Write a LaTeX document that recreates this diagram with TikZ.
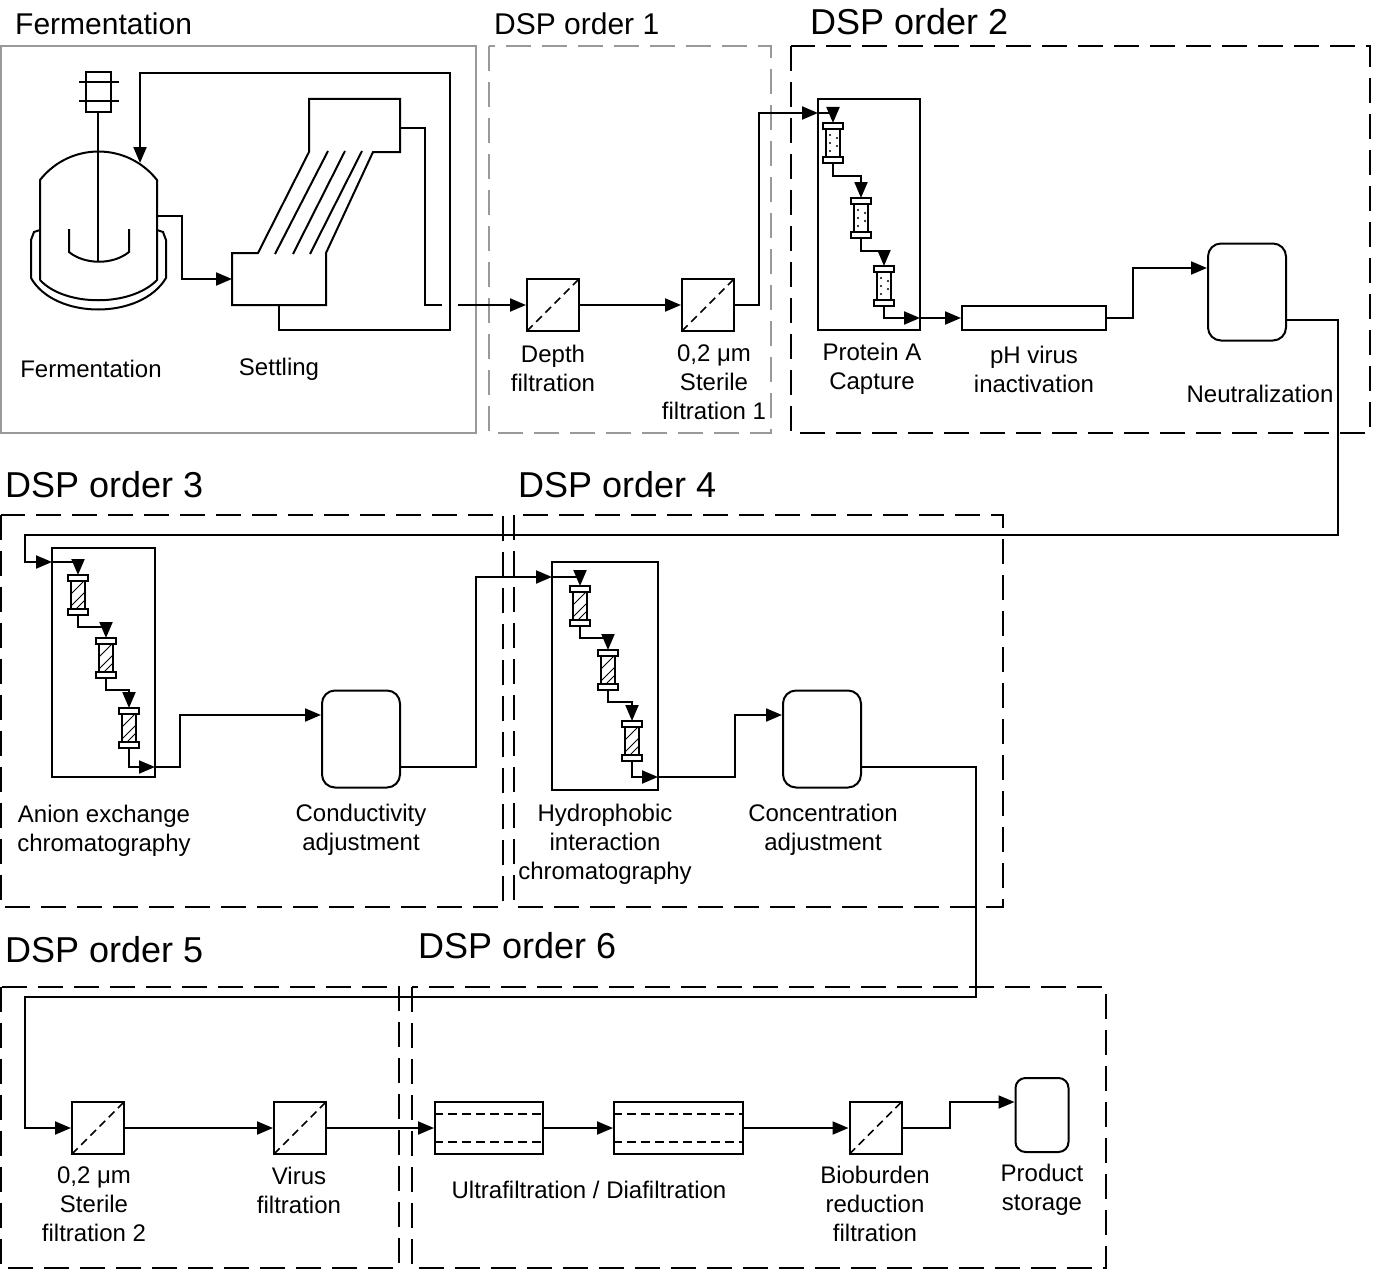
\documentclass[tikz,border=0pt]{standalone}
\usepackage{fontspec}
\setmainfont{Liberation Sans}
\usetikzlibrary{arrows.meta, positioning}
\tikzset{
  flow/.style={line width=2pt, -{Triangle[length=16pt,width=13pt]}},
  pipe/.style={line width=2pt},
  stage/.style={line width=2pt, dash pattern=on 25pt off 11pt},
  ttl/.style={anchor=west, inner sep=0pt, font=\fontsize{36}{38}\selectfont},
  ttlsmall/.style={anchor=west, inner sep=0pt, font=\fontsize{30}{32}\selectfont},
  lbl/.style={align=center, inner sep=0pt, font=\fontsize{24}{29}\selectfont},
  filter/.style={draw, line width=2pt, minimum size=52pt, inner sep=0pt,
    path picture={\draw[line width=1.5pt, dash pattern=on 8pt off 5pt]
      (path picture bounding box.south west) -- (path picture bounding box.north east);}},
  tank/.style={draw, line width=2pt, minimum width=78pt, minimum height=97pt, rounded corners=13pt},
  unit/.style={draw, line width=2pt, inner sep=0pt},
  pics/colm/.style={code={
    \draw[line width=1.5pt, fill=white] (-10,-20) rectangle (10,-14);
    \draw[line width=1.5pt] (-7,-14) rectangle (7,14);
    \draw[line width=1.5pt, fill=white] (-10,14) rectangle (10,20);
    \ifx#1d
      \foreach \p in {(-3,-8),(4,-5),(-3,0),(4,3),(-3,8)} \fill \p circle (1.2pt);
    \else
      \draw[line width=1pt] (-7,-1) -- (6,-14) (-7,11) -- (7,-3) (-2,14) -- (7,5);
    \fi
    \coordinate (-in) at (0,-20);
    \coordinate (-out) at (0,20);
  }}
}
\begin{document}
\begin{tikzpicture}[x=1pt, y=-1pt]
\useasboundingbox (0,0) rectangle (1375,1271);

% stage frames
\draw[line width=2pt, gray!80] (1,46) rectangle (476,433);
\draw[stage, gray!80] (489,46) rectangle (771,433);
\draw[stage] (791,46) rectangle (1370,433);
\draw[stage] (1,515) rectangle (503,907);
\draw[stage] (514,515) rectangle (1003,907);
\draw[stage] (1,987) rectangle (399,1268);
\draw[stage] (412,987) rectangle (1106,1268);

\node[ttlsmall] (tFerm) at (15,24) {Fermentation};
\node[ttlsmall] (tDsp1) at (494,24) {DSP order 1};
\node[ttl] (tDsp2) at (810,22) {DSP order 2};
\node[ttl] (tDsp3) at (5,485) {DSP order 3};
\node[ttl] (tDsp4) at (518,485) {DSP order 4};
\node[ttl] (tDsp5) at (5,950) {DSP order 5};
\node[ttl] (tDsp6) at (418,946) {DSP order 6};

% fermenter
\draw[pipe] (40,280) -- (40,180) .. controls (70,142) and (127,142) .. (157,180) -- (157,280)
  .. controls (131,307) and (65,307) .. (40,280);
\draw[pipe] (40,230) -- (34,232) -- (31,240) -- (31,278) .. controls (55,320) and (141,320) .. (166,278)
  -- (166,240) -- (163,232) -- (157,230);
\draw[pipe] (98,112) -- (98,262);
\draw[pipe] (86,72) rectangle (111,112);
\draw[pipe] (79,82) -- (119,82) (79,101) -- (119,101);
\draw[pipe] (69,229) -- (69,252) .. controls (85,265) and (113,265) .. (129,252) -- (129,229);
\coordinate (fermIn) at (140,163);
\coordinate (fermOut) at (157,216);

% settler
\draw[pipe] (258,253) -- (232,253) -- (232,305) -- (326,305) -- (326,253) -- (373,152) -- (400,152)
  -- (400,99) -- (309,99) -- (309,152) -- cycle;
\draw[pipe] (275,254) -- (328,151) (293,254) -- (345,151) (310,254) -- (362,151);
\coordinate (setIn) at (232,279);
\coordinate (setTop) at (400,128);
\coordinate (setBot) at (279,305);

\draw[flow] (fermOut) -- (182,216) |- (setIn);
\draw[flow] (setBot) -- (279,330) -- (450,330) -- (450,73) -| (fermIn);
\draw[pipe] (setTop) -- (425,128) |- (442,305);

\node[lbl] (lFerm) at (91,369) {Fermentation};
\node[lbl] (lSet) at (279,369) {Settling};

% DSP order 1
\node[filter] (depth) at (553,305) {};
\node[filter] (ster1) at (708,305) {};
\draw[flow] (458,305) -- (depth.west);
\draw[flow] (depth.east) -- (ster1.west);
\node[lbl] (lDepth) at (553,368) {Depth\\filtration};
\node[lbl] (lSter1) at (714,382) {0,2 μm\\Sterile\\filtration 1};

% DSP order 2
\node[unit, minimum width=102pt, minimum height=231pt] (protA) at (869,214.5) {};
\coordinate (paIn) at (818,113);
\coordinate (paOut) at (920,318);
\pic (pa1) at (833,143) {colm=d};
\pic (pa2) at (861,218) {colm=d};
\pic (pa3) at (884,286) {colm=d};
\draw[flow] (ster1.east) -- ++(24,0) |- (paIn);
\draw[flow] (paIn) -| (pa1-in);
\draw[flow] (pa1-out) -- ++(0,13) -| (pa2-in);
\draw[flow] (pa2-out) -- ++(0,13) -| (pa3-in);
\draw[flow] (pa3-out) |- (paOut);
\node[unit, minimum width=144pt, minimum height=24pt] (phInact) at (1034,318) {};
\draw[flow] (paOut) -- (phInact.west);
\node[tank] (neut) at (1247,292) {};
\draw[flow] (phInact.east) -- ++(26,0) |- ([yshift=24pt]neut.west);
\node[lbl] (lProtA) at (872,369) {Protein A\\Capture};
\node[lbl] (lPh) at (1034,369) {pH virus\\inactivation};
\node[lbl] (lNeut) at (1260,394) {Neutralization};

% DSP order 3
\node[unit, minimum width=103pt, minimum height=229pt] (aex) at (103.5,662.5) {};
\coordinate (aexIn) at (52,562);
\coordinate (aexOut) at (155,767);
\pic (ax1) at (78,595) {colm=h};
\pic (ax2) at (106,658) {colm=h};
\pic (ax3) at (129,728) {colm=h};
\draw[flow] ([yshift=-28pt]neut.east) -- (1338,320) -- (1338,535) -- (25,535) |- (aexIn);
\draw[flow] (aexIn) -| (ax1-in);
\draw[flow] (ax1-out) -- ++(0,12) -| (ax2-in);
\draw[flow] (ax2-out) -- ++(0,12) -| (ax3-in);
\draw[flow] (ax3-out) |- (aexOut);
\node[tank] (cond) at (361,739) {};
\draw[flow] (aexOut) -- (180,767) |- ([yshift=24pt]cond.west);
\node[lbl] (lAex) at (104,831) {Anion exchange\\chromatography};
\node[lbl] (lCond) at (361,830) {Conductivity\\adjustment};

% DSP order 4
\node[unit, minimum width=106pt, minimum height=228pt] (hic) at (605,676) {};
\coordinate (hicIn) at (552,577);
\coordinate (hicOut) at (658,777);
\pic (hc1) at (580,606) {colm=h};
\pic (hc2) at (608,670) {colm=h};
\pic (hc3) at (632,741) {colm=h};
\draw[flow] ([yshift=-28pt]cond.east) -- (476,767) |- (hicIn);
\draw[flow] (hicIn) -| (hc1-in);
\draw[flow] (hc1-out) -- ++(0,12) -| (hc2-in);
\draw[flow] (hc2-out) -- ++(0,12) -| (hc3-in);
\draw[flow] (hc3-out) |- (hicOut);
\node[tank] (conc) at (822,739) {};
\draw[flow] (hicOut) -- (735,777) |- ([yshift=24pt]conc.west);
\node[lbl] (lHic) at (605,844) {Hydrophobic\\interaction\\chromatography};
\node[lbl] (lConc) at (823,830) {Concentration\\adjustment};

% DSP order 5
\node[filter] (ster2) at (98,1128) {};
\node[filter] (virus) at (300,1128) {};
\draw[flow] ([yshift=-28pt]conc.east) -- (976,767) -- (976,997) -- (25,997) |- (ster2.west);
\draw[flow] (ster2.east) -- (virus.west);
\node[lbl] (lSter2) at (94,1204) {0,2 μm\\Sterile\\filtration 2};
\node[lbl] (lVirus) at (299,1190) {Virus\\filtration};

% DSP order 6
\node[unit, minimum width=108pt, minimum height=52pt] (uf1) at (489,1128) {};
\node[unit, minimum width=129pt, minimum height=52pt] (uf2) at (678.5,1128) {};
\foreach \m in {uf1, uf2} {
  \draw[line width=1.5pt, dash pattern=on 9pt off 5pt]
    ([yshift=-13pt]\m.north west) -- ([yshift=-13pt]\m.north east)
    ([yshift=13pt]\m.south west) -- ([yshift=13pt]\m.south east);
}
\node[filter] (biob) at (875.5,1128) {};
\node[tank, minimum width=53pt, minimum height=74pt, rounded corners=10pt] (prod) at (1042,1115) {};
\draw[flow] (virus.east) -- (uf1.west);
\draw[flow] (uf1.east) -- (uf2.west);
\draw[flow] (uf2.east) -- (biob.west);
\draw[flow] (biob.east) -- (950,1128) |- ([yshift=13pt]prod.west);
\node[lbl] (lUf) at (589,1190) {Ultrafiltration / Diafiltration};
\node[lbl] (lBiob) at (875,1204) {Bioburden\\reduction\\filtration};
\node[lbl] (lProd) at (1042,1190) {Product\\storage};
\end{tikzpicture}
\end{document}
